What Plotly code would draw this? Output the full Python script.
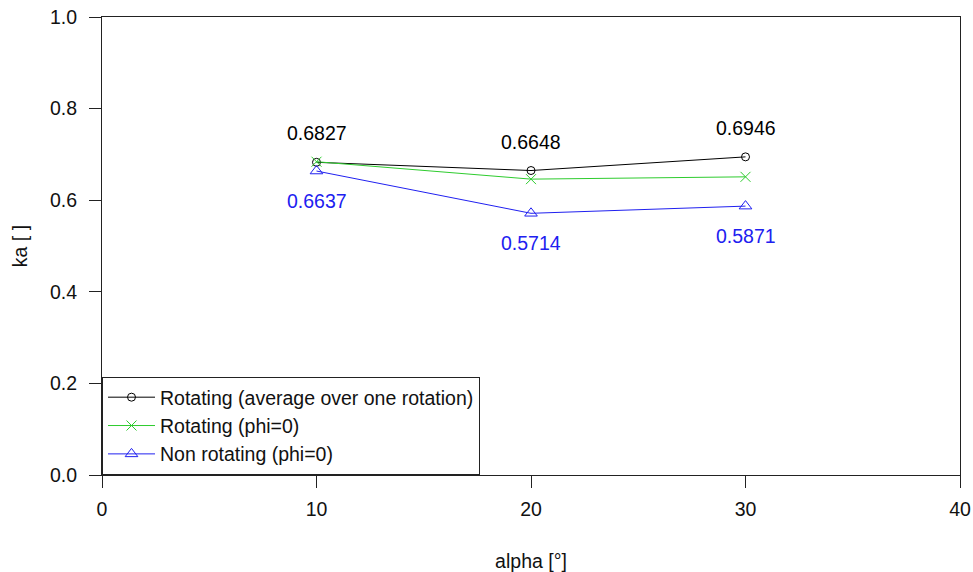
import plotly.graph_objects as go

alpha = [10, 20, 30]
rot_avg = [0.6827, 0.6648, 0.6946]
rot_phi0 = [0.684, 0.646, 0.651]
nonrot_phi0 = [0.6637, 0.5714, 0.5871]
names = ["Rotating (average over one rotation)", "Rotating (phi=0)", "Non rotating (phi=0)"]
x_ticks = [0, 10, 20, 30, 40]
y_ticks = [0.0, 0.2, 0.4, 0.6, 0.8, 1.0]

FONT = "Liberation Sans, Arial, sans-serif"
FS = 19.5
BLACK = "#000000"
GREEN = "#2ECC2E"
BLUE = "#2020F0"

fig = go.Figure()
fig.add_trace(go.Scatter(x=alpha, y=rot_avg, name=names[0], mode="lines+markers",
                         line=dict(color=BLACK, width=1),
                         marker=dict(symbol="circle-open", size=8, color=BLACK, line=dict(width=1))))
fig.add_trace(go.Scatter(x=alpha, y=rot_phi0, name=names[1], mode="lines+markers",
                         line=dict(color=GREEN, width=1),
                         marker=dict(symbol="x-thin-open", size=10, color=GREEN, line=dict(width=1, color=GREEN))))
fig.add_trace(go.Scatter(x=alpha, y=nonrot_phi0, name=names[2], mode="lines+markers",
                         line=dict(color=BLUE, width=1),
                         marker=dict(symbol="triangle-up-open", size=11, color=BLUE, line=dict(width=1))))

for xv, yv in zip(alpha, rot_avg):
    fig.add_annotation(x=xv, y=yv, text=f"{yv:.4f}", showarrow=False, yshift=29,
                       font=dict(family=FONT, size=FS, color=BLACK))
for xv, yv in zip(alpha, nonrot_phi0):
    fig.add_annotation(x=xv, y=yv, text=f"{yv:.4f}", showarrow=False, yshift=-30,
                       font=dict(family=FONT, size=FS, color=BLUE))

axis_common = dict(showline=True, linecolor="#222", linewidth=1, mirror=True,
                   ticks="outside", ticklen=12, tickcolor="#222", tickwidth=1,
                   showgrid=False, zeroline=False,
                   tickfont=dict(family=FONT, size=FS, color="#111"))

fig.update_xaxes(range=[0, 40], tickvals=x_ticks, ticktext=[str(v) for v in x_ticks],
                 title=dict(text="alpha [°]", font=dict(family=FONT, size=FS, color="#111"), standoff=36),
                 ticklabelstandoff=5, automargin=False, **axis_common)
fig.update_yaxes(range=[0, 1], tickvals=y_ticks, ticktext=[f"{v:.1f}" for v in y_ticks],
                 title=dict(text="ka [ ]", font=dict(family=FONT, size=FS, color="#111"), standoff=17),
                 ticklabelstandoff=8, automargin=False, **axis_common)

fig.update_layout(
    width=973, height=572,
    margin=dict(l=102, r=13, t=17, b=97, autoexpand=False),
    plot_bgcolor="white", paper_bgcolor="white",
    font=dict(family=FONT, size=FS, color="#111"),
    legend=dict(x=0, y=0, xanchor="left", yanchor="bottom",
                bordercolor="#222", borderwidth=1, bgcolor="white",
                font=dict(family=FONT, size=FS, color="#111"),
                tracegroupgap=0, itemwidth=47),
    showlegend=True,
)

fig.write_html("out.html", config={"displayModeBar": False},
               post_script="document.body.style.margin='0';")
